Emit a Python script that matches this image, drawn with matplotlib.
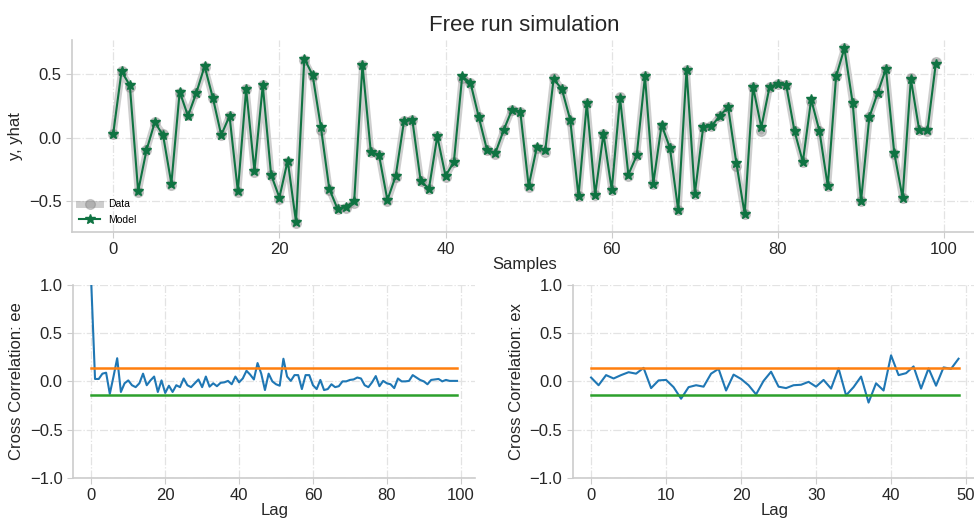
import matplotlib.pyplot as plt

plt.rcParams['font.family'] = ['Liberation Sans', 'DejaVu Sans']

# free run simulation (samples 0..99)
y_model = [0.03, 0.52, 0.41, -0.42, -0.10, 0.12, 0.02, -0.36, 0.36, 0.17,
           0.35, 0.56, 0.31, 0.02, 0.17, -0.42, 0.38, -0.26, 0.41, -0.29,
           -0.47, -0.18, -0.66, 0.62, 0.49, 0.08, -0.40, -0.56, -0.54, -0.50,
           0.57, -0.11, -0.14, -0.49, -0.30, 0.13, 0.14, -0.34, -0.40, 0.01,
           -0.30, -0.19, 0.48, 0.43, 0.16, -0.10, -0.12, 0.06, 0.22, 0.20,
           -0.38, -0.07, -0.10, 0.46, 0.38, 0.14, -0.46, 0.27, -0.45, 0.03,
           -0.41, 0.31, -0.29, -0.14, 0.48, -0.36, 0.10, -0.08, -0.57, 0.53,
           -0.44, 0.08, 0.09, 0.17, 0.24, -0.20, -0.60, 0.40, 0.08, 0.40,
           0.42, 0.41, 0.05, -0.19, 0.30, 0.05, -0.38, 0.48, 0.70, 0.27,
           -0.50, 0.16, 0.35, 0.54, -0.12, -0.47, 0.46, 0.06, 0.06, 0.58]
y_data = [0.03, 0.52, 0.40, -0.43, -0.10, 0.12, 0.03, -0.37, 0.35, 0.18,
          0.35, 0.55, 0.31, 0.02, 0.17, -0.43, 0.38, -0.27, 0.41, -0.29,
          -0.48, -0.19, -0.67, 0.61, 0.48, 0.06, -0.41, -0.56, -0.55, -0.51,
          0.57, -0.11, -0.14, -0.50, -0.31, 0.13, 0.14, -0.34, -0.40, 0.01,
          -0.31, -0.19, 0.47, 0.43, 0.16, -0.10, -0.13, 0.06, 0.22, 0.20,
          -0.39, -0.08, -0.11, 0.47, 0.38, 0.13, -0.46, 0.27, -0.45, 0.03,
          -0.41, 0.32, -0.30, -0.14, 0.48, -0.36, 0.09, -0.08, -0.57, 0.53,
          -0.44, 0.08, 0.09, 0.17, 0.24, -0.22, -0.60, 0.40, 0.05, 0.40,
          0.42, 0.41, 0.05, -0.19, 0.29, 0.05, -0.38, 0.48, 0.70, 0.27,
          -0.50, 0.16, 0.35, 0.54, -0.13, -0.47, 0.47, 0.06, 0.05, 0.59]

# residue correlations
ee = [1.0, 0.025, 0.025, 0.08, 0.09, -0.13, 0.05, 0.24, -0.11, -0.02,
      0.01, -0.04, -0.06, -0.02, 0.08, -0.04, 0.01, 0.05, -0.11, 0.01,
      -0.12, -0.045, -0.11, -0.04, -0.06, 0.03, -0.04, -0.06, -0.02, 0.02,
      -0.06, 0.05, -0.055, -0.02, -0.05, -0.015, -0.01, 0.005, -0.03, 0.05,
      -0.01, 0.03, 0.11, 0.07, 0.02, 0.19, 0.08, -0.09, 0.08, 0.0,
      -0.03, -0.045, 0.235, 0.05, 0.005, 0.065, 0.065, -0.08, 0.065, 0.065,
      -0.04, -0.08, 0.015, -0.09, -0.08, -0.03, -0.06, -0.05, 0.0, 0.0,
      0.015, 0.02, 0.04, 0.03, -0.04, -0.06, -0.01, 0.055, -0.05, 0.005,
      -0.02, -0.03, -0.07, 0.03, 0.0, 0.0, 0.005, 0.065, 0.04, 0.015,
      0.0, -0.03, 0.015, 0.02, 0.025, 0.0, 0.015, 0.005, 0.005, 0.005]
ex = [0.04, -0.04, 0.065, 0.03, 0.065, 0.095, 0.08, 0.14, -0.07, 0.01,
      0.015, -0.06, -0.18, -0.06, -0.04, -0.055, 0.08, 0.13, -0.095, 0.07,
      0.025, -0.04, -0.135, 0.005, 0.10, -0.055, -0.07, -0.04, -0.035, -0.005,
      -0.055, 0.015, -0.075, 0.135, -0.145, -0.06, 0.05, -0.22, -0.02, -0.095,
      0.27, 0.065, 0.085, 0.155, -0.075, 0.135, -0.045, 0.145, 0.13, 0.235]
conf = 0.139

text_c = '#262626'
grid_c = '#e3e3e3'
spine_c = '#cccccc'


def style_ax(ax):
    ax.set_facecolor('white')
    ax.grid(True, linestyle='-.', color=grid_c, linewidth=0.9)
    ax.set_axisbelow(True)
    for s in ['top', 'right']:
        ax.spines[s].set_visible(False)
    for s in ['left', 'bottom']:
        ax.spines[s].set_color(spine_c)
        ax.spines[s].set_linewidth(1.2)
    ax.tick_params(labelsize=12, colors=text_c, color=spine_c, length=4)


fig = plt.figure(figsize=(9.74, 5.21), dpi=100, facecolor='white')

ax = fig.add_axes([0.074, 0.555, 0.929, 0.369])
style_ax(ax)
ax.plot(y_data, c='gray', alpha=0.38, marker='o', markersize=7, linewidth=5, label='Data')
ax.plot(y_model, c='#0f7342', marker='*', markersize=7, linewidth=1.5, label='Model')
ax.set_title('Free run simulation', fontsize=16, color=text_c)
ax.set_xlabel('Samples', fontsize=12, color=text_c, labelpad=0)
ax.set_ylabel('y, yhat', fontsize=12, color=text_c)
ax.set_yticks([-0.5, 0.0, 0.5])
ax.legend(loc='lower left', fontsize=7.5, frameon=False, borderaxespad=0.3)

ax1 = fig.add_axes([0.075, 0.083, 0.413, 0.370])
style_ax(ax1)
ax1.plot(ee, color='#1f77b4', linewidth=1.5)
ax1.plot([conf] * len(ee), color='#ff7f0e', linewidth=1.8)
ax1.plot([-conf] * len(ee), color='#2ca02c', linewidth=1.8)
ax1.set_ylim(-1, 1)
ax1.set_ylabel('Cross Correlation: ee', fontsize=12, color=text_c)
ax1.set_xlabel('Lag', fontsize=12, color=text_c, labelpad=0)

ax2 = fig.add_axes([0.588, 0.083, 0.415, 0.370])
style_ax(ax2)
ax2.plot(ex, color='#1f77b4', linewidth=1.5)
ax2.plot([conf] * len(ex), color='#ff7f0e', linewidth=1.8)
ax2.plot([-conf] * len(ex), color='#2ca02c', linewidth=1.8)
ax2.set_ylim(-1, 1)
ax2.set_ylabel('Cross Correlation: ex', fontsize=12, color=text_c)
ax2.set_xlabel('Lag', fontsize=12, color=text_c, labelpad=0)

fig.savefig('out.png', dpi=100, facecolor='white')
